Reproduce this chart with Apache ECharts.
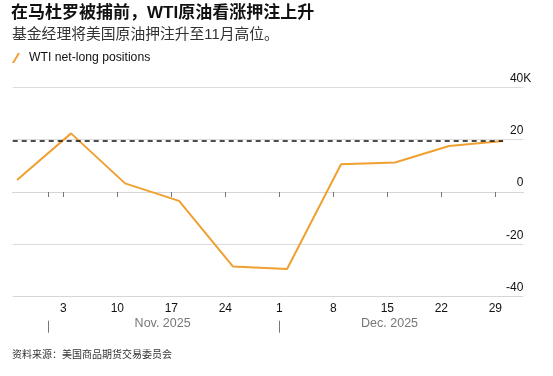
<!DOCTYPE html>
<html>
<head>
<meta charset="utf-8">
<script src="https://cdn.jsdelivr.net/npm/echarts@6/dist/echarts.min.js"></script>
<style>
  html, body { margin: 0; padding: 0; background: #fff; }
  #chart { width: 553px; height: 376px; }
</style>
</head>
<body>
<div id="chart"></div>
<script>
// ---- data ----
const dates = ['2025-10-28','2025-11-04','2025-11-11','2025-11-18','2025-11-25','2025-12-02','2025-12-09','2025-12-16','2025-12-23','2025-12-30'];
const netLong = [4.6, 22.4, 3.3, -3.4, -28.5, -29.4, 10.6, 11.3, 17.6, 19.5]; // thousands of contracts
const refLevel = 19.5;
const yMin = -40, yMax = 40, yStep = 20;
const weekTickDates = ['2025-11-03','2025-11-10','2025-11-17','2025-11-24','2025-12-01','2025-12-08','2025-12-15','2025-12-22','2025-12-29'];
const weekTickLabels = ['3','10','17','24','1','8','15','22','29'];
const monthStartDates = ['2025-11-01','2025-12-01'];
const monthLabels = ['Nov. 2025','Dec. 2025'];
const monthLabelDates = ['2025-11-15T21:00:00Z','2025-12-15T07:00:00Z'];
const axisStart = '2025-10-27T10:30:00Z';
const axisEnd = '2026-01-01T15:00:00Z';

const title = '在马杜罗被捕前，WTI原油看涨押注上升';
const subtitle = '基金经理将美国原油押注升至11月高位。';
const seriesName = 'WTI net-long positions';
const source = '资料来源：美国商品期货交易委员会';

// ---- helpers ----
const ORIGIN = Date.parse('2025-11-01T00:00:00Z');
const dayOf = s => (Date.parse(s.length > 10 ? s : s + 'T00:00:00Z') - ORIGIN) / 86400000;
const xMin = dayOf(axisStart), xMax = dayOf(axisEnd);
const weekTicks = weekTickDates.map(dayOf);
const monthStarts = monthStartDates.map(dayOf);
const monthCenters = monthLabelDates.map(dayOf);
const lineData = dates.map((d, i) => [dayOf(d), netLong[i]]);

const FONT = '"Liberation Sans", Arial, "Noto Sans CJK SC", sans-serif';
const ORANGE = '#f0a030';

const chart = echarts.init(document.getElementById('chart'), null, { renderer: 'canvas' });
chart.setOption({
  animation: false,
  backgroundColor: '#fff',
  textStyle: { fontFamily: FONT },
  title: [
    { text: title, left: 11, top: 5, padding: 0,
      textStyle: { fontSize: 17, fontWeight: 'bold', color: '#111', fontFamily: FONT } },
    { text: subtitle, left: 12, top: 28, padding: 0,
      textStyle: { fontSize: 14.8, fontWeight: 'normal', color: '#333', fontFamily: FONT } },
    { text: source, left: 12, top: 350, padding: 0,
      textStyle: { fontSize: 10, fontWeight: 'normal', color: '#333', fontFamily: FONT } }
  ],
  legend: {
    left: 12, top: 52, padding: 0,
    itemWidth: 8, itemHeight: 10,
    icon: 'path://M0 10 L2.2 10 L8 0 L5.8 0 Z',
    data: [{ name: seriesName, itemStyle: { color: ORANGE } }],
    textStyle: { fontSize: 12.2, color: '#111', fontFamily: FONT, padding: [0, 0, 0, 4] }
  },
  grid: { left: 12.7, right: 29.7, top: 87.3, bottom: 79.3, containLabel: false },
  xAxis: [
    {
      type: 'value', min: xMin, max: xMax, position: 'bottom',
      axisLine: { show: true, lineStyle: { color: '#d6d6d6', width: 1 } },
      axisTick: { show: true, customValues: [monthStarts[0]].concat(weekTicks), length: 5,
                  lineStyle: { color: '#777', width: 1 } },
      axisLabel: {
        customValues: weekTicks, margin: 6, fontSize: 12, color: '#111', fontFamily: FONT,
        formatter: v => { const i = weekTicks.findIndex(t => Math.abs(t - v) < 1e-6); return i >= 0 ? weekTickLabels[i] : ''; }
      },
      splitLine: { show: false }
    },
    {
      type: 'value', min: xMin, max: xMax, position: 'bottom', offset: 24,
      axisLine: { show: false },
      axisTick: { show: true, customValues: monthStarts, length: 12, inside: false,
                  lineStyle: { color: '#777', width: 1 } },
      axisLabel: {
        customValues: monthCenters, margin: 3, verticalAlign: 'middle', fontSize: 12.5, color: '#777', fontFamily: FONT,
        formatter: v => { const i = monthCenters.findIndex(t => Math.abs(t - v) < 1e-6); return i >= 0 ? monthLabels[i] : ''; }
      },
      splitLine: { show: false }
    }
  ],
  yAxis: {
    type: 'value', min: yMin, max: yMax, interval: yStep, position: 'right',
    axisLine: { show: false }, axisTick: { show: false },
    axisLabel: {
      inside: true, align: 'right', verticalAlign: 'bottom', margin: -8, padding: [0, 0, 3, 0],
      fontSize: 12, color: '#111', fontFamily: FONT,
      formatter: v => v === yMax ? v + 'K' : v + '{s|}',
      rich: { s: { width: 8 } }
    },
    splitLine: { show: true, lineStyle: { color: ['#d6d6d6', '#dcdcdc', '#6f6f6f', '#dcdcdc', '#dcdcdc'], width: 1 } }
  },
  series: [{
    name: seriesName, type: 'line', xAxisIndex: 0, data: lineData,
    showSymbol: false, symbol: 'none',
    lineStyle: { color: ORANGE, width: 2 },
    itemStyle: { color: ORANGE },
    markLine: {
      silent: true, symbol: 'none', label: { show: false },
      lineStyle: { color: '#111', type: [5, 4], width: 1.5 },
      data: [[{ coord: [xMin, refLevel] }, { coord: [lineData[lineData.length - 1][0], refLevel] }]]
    }
  }]
});
</script>
</body>
</html>
